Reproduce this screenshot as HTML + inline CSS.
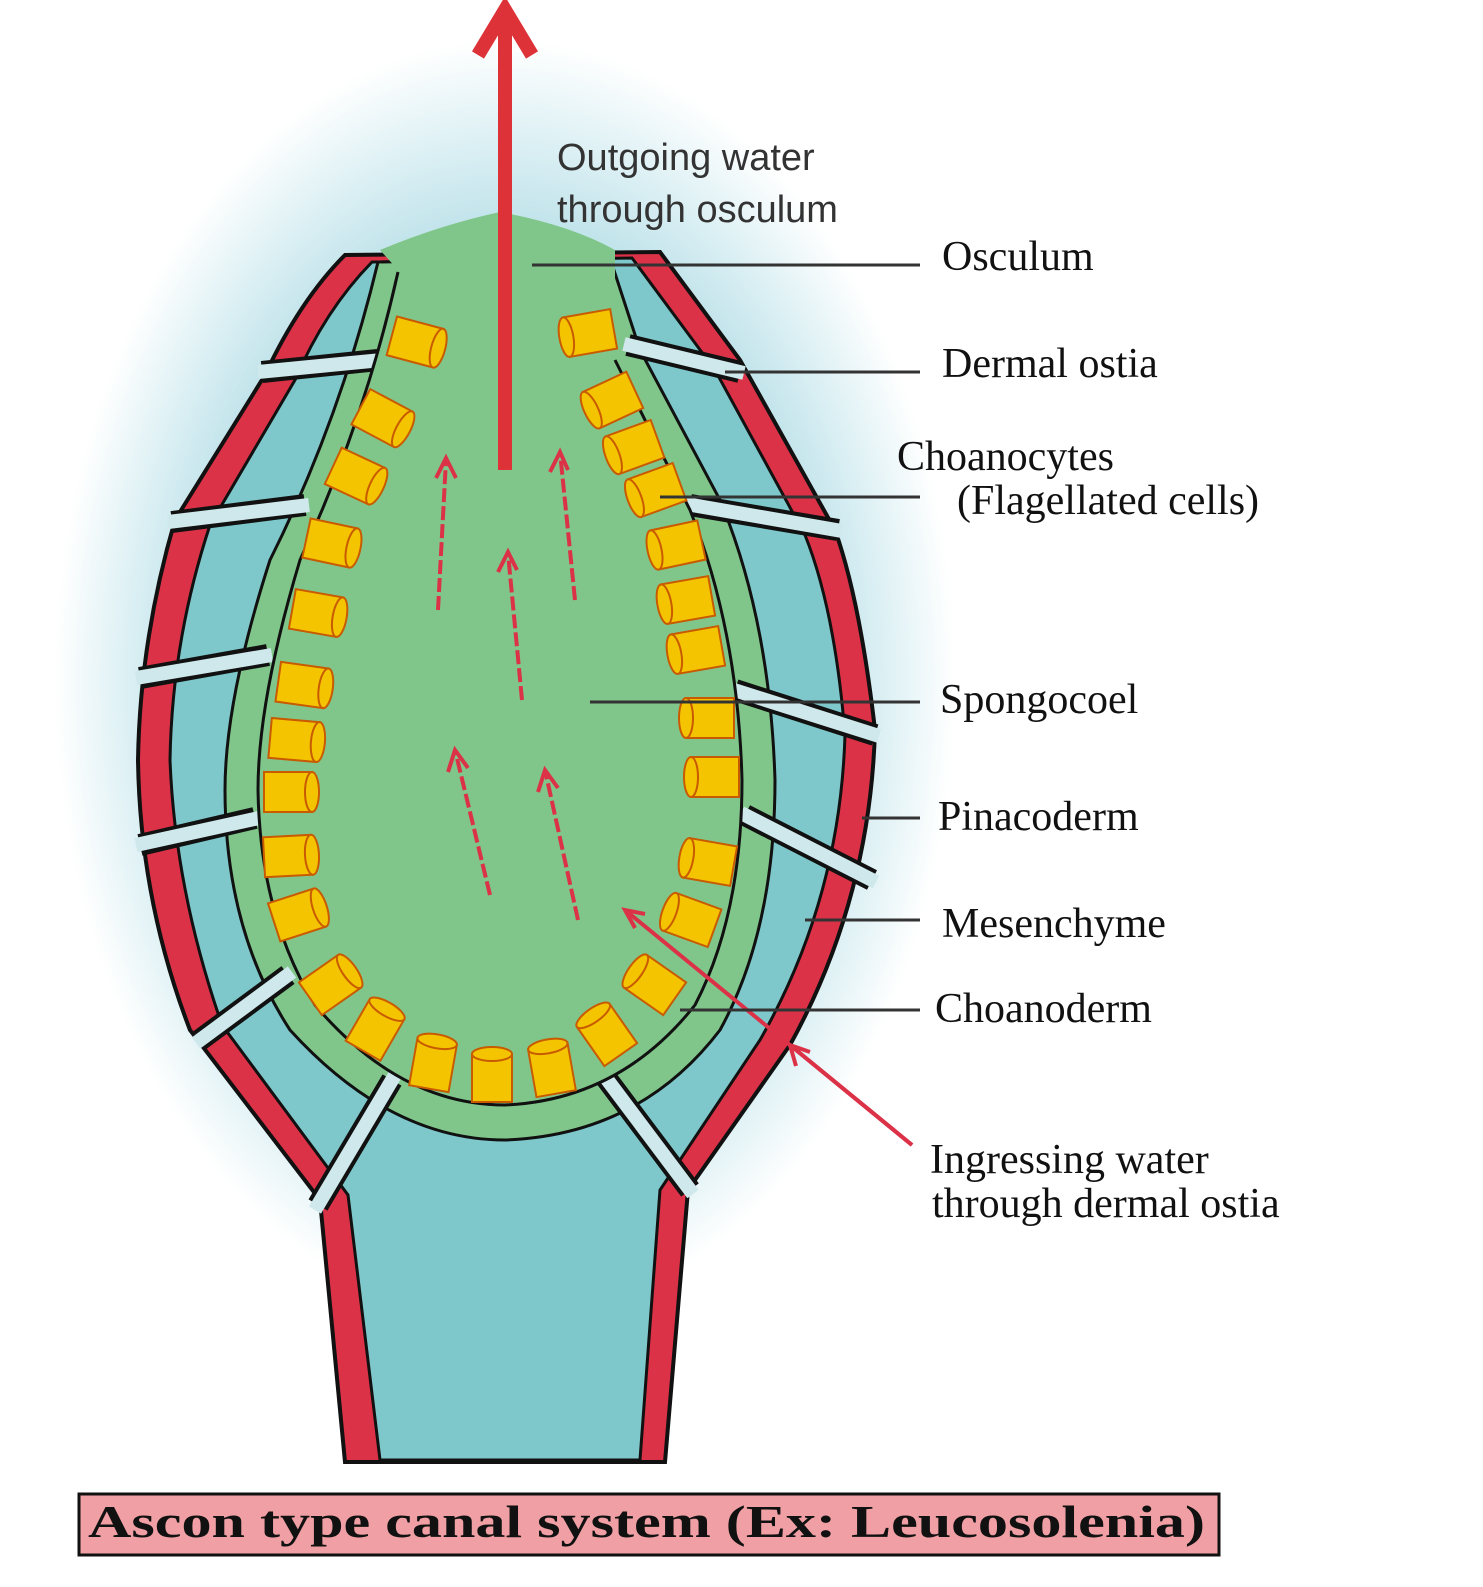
<!DOCTYPE html>
<html><head><meta charset="utf-8"><style>
html,body{margin:0;padding:0;background:#fff;}
svg{display:block}
</style></head><body>
<svg width="1483" height="1587" viewBox="0 0 1483 1587" xmlns="http://www.w3.org/2000/svg">
<defs>
<radialGradient id="glow" cx="0.5" cy="0.5" r="0.5">
<stop offset="0.6" stop-color="#a9d8e2"/>
<stop offset="0.8" stop-color="#d3ecf1"/>
<stop offset="1" stop-color="#ffffff"/>
</radialGradient>
</defs>
<rect width="1483" height="1587" fill="#fff"/>
<ellipse cx="505" cy="680" rx="450" ry="640" fill="url(#glow)"/>
<!-- outer red incl stalk -->
<path d="M345,255 Q300,300 265,375 L175,520 Q140,640 138,760 Q140,900 190,1030 L320,1200 L345,1462 L665,1462 L688,1190 L790,1045 Q870,900 875,730 Q860,600 835,530 L740,360 L660,252 Z" fill="#dc3248" stroke="#111" stroke-width="4"/>
<!-- blue -->
<path d="M372,262 Q325,310 295,380 L210,525 Q172,640 170,760 Q175,890 222,1025 L348,1195 L380,1460 L640,1460 L660,1190 L760,1040 Q840,900 845,735 Q835,610 805,535 L715,370 L632,258 Z" fill="#7ec8cb" stroke="#111" stroke-width="3"/>
<!-- choanoderm band -->
<path d="M378,262 Q340,420 270,560 Q225,700 225,790 Q225,930 290,1030 Q390,1140 505,1140 Q640,1135 720,1030 Q775,930 775,780 Q770,620 720,500 L640,350 L610,258 Z" fill="#80c68a" stroke="#111" stroke-width="3"/>
<!-- ostia gaps -->
<g stroke-linecap="butt" fill="none">
<g stroke="#111" stroke-width="22">
<line x1="262" y1="372" x2="378" y2="360"/><line x1="172" y1="522" x2="305" y2="505"/>
<line x1="140" y1="678" x2="268" y2="655"/><line x1="140" y1="845" x2="255" y2="818"/>
<line x1="200" y1="1040" x2="288" y2="975"/><line x1="318" y1="1205" x2="392" y2="1080"/>
<line x1="600" y1="1070" x2="690" y2="1190"/><line x1="745" y1="815" x2="872" y2="880"/>
<line x1="735" y1="690" x2="875" y2="735"/><line x1="690" y1="505" x2="838" y2="530"/>
<line x1="628" y1="345" x2="740" y2="372"/>
</g>
<g stroke="#cfe8ec" stroke-width="14">
<line x1="258" y1="372" x2="382" y2="360"/><line x1="168" y1="522" x2="309" y2="505"/>
<line x1="136" y1="678" x2="272" y2="655"/><line x1="136" y1="845" x2="259" y2="818"/>
<line x1="196" y1="1043" x2="292" y2="972"/><line x1="315" y1="1210" x2="395" y2="1075"/>
<line x1="597" y1="1066" x2="693" y2="1194"/><line x1="741" y1="813" x2="876" y2="882"/>
<line x1="731" y1="689" x2="879" y2="736"/><line x1="686" y1="504" x2="842" y2="531"/>
<line x1="624" y1="344" x2="744" y2="373"/>
</g>
</g>
<!-- spongocoel interior with dome -->
<path d="M380,250 Q440,225 500,212 Q570,225 615,250 L615,360 L690,510 Q738,630 742,780 Q742,915 695,1005 Q620,1100 505,1105 Q400,1105 315,1005 Q260,915 258,790 Q258,700 300,560 Q365,420 398,270 Z" fill="#80c68a"/>
<path d="M398,272 Q365,420 300,560 Q258,700 258,790 Q260,915 315,1005 Q400,1105 505,1105 Q620,1100 695,1005 Q742,915 742,780 Q738,630 690,510 L615,360" fill="none" stroke="#111" stroke-width="3"/>
<!-- choanocytes -->
<g fill="#f5c400" stroke="#c85a00" stroke-width="2">
<g transform="translate(415,342) rotate(15)"><rect x="-24" y="-20" width="48" height="40"/><ellipse cx="24" cy="0" rx="7" ry="20"/></g>
<g transform="translate(382,418) rotate(28)"><rect x="-24" y="-20" width="48" height="40"/><ellipse cx="24" cy="0" rx="7" ry="20"/></g>
<g transform="translate(355,476) rotate(25)"><rect x="-24" y="-20" width="48" height="40"/><ellipse cx="24" cy="0" rx="7" ry="20"/></g>
<g transform="translate(330,543) rotate(12)"><rect x="-24" y="-20" width="48" height="40"/><ellipse cx="24" cy="0" rx="7" ry="20"/></g>
<g transform="translate(316,613) rotate(10)"><rect x="-24" y="-20" width="48" height="40"/><ellipse cx="24" cy="0" rx="7" ry="20"/></g>
<g transform="translate(302,685) rotate(8)"><rect x="-24" y="-20" width="48" height="40"/><ellipse cx="24" cy="0" rx="7" ry="20"/></g>
<g transform="translate(294,740) rotate(5)"><rect x="-24" y="-20" width="48" height="40"/><ellipse cx="24" cy="0" rx="7" ry="20"/></g>
<g transform="translate(288,792) rotate(0)"><rect x="-24" y="-20" width="48" height="40"/><ellipse cx="24" cy="0" rx="7" ry="20"/></g>
<g transform="translate(288,856) rotate(-3)"><rect x="-24" y="-20" width="48" height="40"/><ellipse cx="24" cy="0" rx="7" ry="20"/></g>
<g transform="translate(297,915) rotate(-18)"><rect x="-24" y="-20" width="48" height="40"/><ellipse cx="24" cy="0" rx="7" ry="20"/></g>
<g transform="translate(330,985) rotate(-35)"><rect x="-24" y="-20" width="48" height="40"/><ellipse cx="24" cy="0" rx="7" ry="20"/></g>
<g transform="translate(375,1030) rotate(-60)"><rect x="-24" y="-20" width="48" height="40"/><ellipse cx="24" cy="0" rx="7" ry="20"/></g>
<g transform="translate(433,1065) rotate(-80)"><rect x="-24" y="-20" width="48" height="40"/><ellipse cx="24" cy="0" rx="7" ry="20"/></g>
<g transform="translate(492,1078) rotate(-90)"><rect x="-24" y="-20" width="48" height="40"/><ellipse cx="24" cy="0" rx="7" ry="20"/></g>
<g transform="translate(552,1070) rotate(-100)"><rect x="-24" y="-20" width="48" height="40"/><ellipse cx="24" cy="0" rx="7" ry="20"/></g>
<g transform="translate(607,1035) rotate(-125)"><rect x="-24" y="-20" width="48" height="40"/><ellipse cx="24" cy="0" rx="7" ry="20"/></g>
<g transform="translate(655,985) rotate(-145)"><rect x="-24" y="-20" width="48" height="40"/><ellipse cx="24" cy="0" rx="7" ry="20"/></g>
<g transform="translate(692,920) rotate(-160)"><rect x="-24" y="-20" width="48" height="40"/><ellipse cx="24" cy="0" rx="7" ry="20"/></g>
<g transform="translate(710,862) rotate(-170)"><rect x="-24" y="-20" width="48" height="40"/><ellipse cx="24" cy="0" rx="7" ry="20"/></g>
<g transform="translate(715,777) rotate(180)"><rect x="-24" y="-20" width="48" height="40"/><ellipse cx="24" cy="0" rx="7" ry="20"/></g>
<g transform="translate(710,718) rotate(180)"><rect x="-24" y="-20" width="48" height="40"/><ellipse cx="24" cy="0" rx="7" ry="20"/></g>
<g transform="translate(698,650) rotate(-190)"><rect x="-24" y="-20" width="48" height="40"/><ellipse cx="24" cy="0" rx="7" ry="20"/></g>
<g transform="translate(688,600) rotate(-190)"><rect x="-24" y="-20" width="48" height="40"/><ellipse cx="24" cy="0" rx="7" ry="20"/></g>
<g transform="translate(678,545) rotate(-192)"><rect x="-24" y="-20" width="48" height="40"/><ellipse cx="24" cy="0" rx="7" ry="20"/></g>
<g transform="translate(657,490) rotate(-200)"><rect x="-24" y="-20" width="48" height="40"/><ellipse cx="24" cy="0" rx="7" ry="20"/></g>
<g transform="translate(635,447) rotate(-200)"><rect x="-24" y="-20" width="48" height="40"/><ellipse cx="24" cy="0" rx="7" ry="20"/></g>
<g transform="translate(613,400) rotate(-205)"><rect x="-24" y="-20" width="48" height="40"/><ellipse cx="24" cy="0" rx="7" ry="20"/></g>
<g transform="translate(590,333) rotate(-190)"><rect x="-24" y="-20" width="48" height="40"/><ellipse cx="24" cy="0" rx="7" ry="20"/></g>
</g>
<!-- big arrow -->
<line x1="505" y1="470" x2="505" y2="10" stroke="#dc3238" stroke-width="14"/>
<polyline points="478,55 505,10 532,55" fill="none" stroke="#dc3238" stroke-width="14"/>
<!-- small arrows -->
<g stroke="#dc3248" stroke-width="4" fill="none">
<line x1="438" y1="610" x2="446" y2="460" stroke-dasharray="14,4"/><polyline points="436,478 446,458 456,478"/>
<line x1="575" y1="600" x2="560" y2="452" stroke-dasharray="14,4"/><polyline points="550,472 560,452 568,470"/>
<line x1="522" y1="700" x2="508" y2="553" stroke-dasharray="14,4"/><polyline points="498,572 508,552 517,570"/>
<line x1="490" y1="895" x2="455" y2="750" stroke-dasharray="14,4"/><polyline points="448,772 455,750 468,768"/>
<line x1="578" y1="920" x2="545" y2="770" stroke-dasharray="14,4"/><polyline points="538,792 545,770 558,788"/>
<line x1="912" y1="1145" x2="625" y2="910"/><polyline points="635,928 625,910 645,914"/>
<line x1="912" y1="1145" x2="790" y2="1045"/><polyline points="796,1066 790,1045 810,1052"/>
</g>
<!-- leader lines -->
<g stroke="#333" stroke-width="3">
<line x1="532" y1="265" x2="920" y2="265"/>
<line x1="725" y1="372" x2="920" y2="372"/>
<line x1="660" y1="497" x2="920" y2="497"/>
<line x1="590" y1="702" x2="920" y2="702"/>
<line x1="862" y1="818" x2="920" y2="818"/>
<line x1="805" y1="920" x2="920" y2="920"/>
<line x1="680" y1="1010" x2="920" y2="1010"/>
</g>
<!-- labels -->
<g font-family="Liberation Sans, sans-serif" font-size="38" fill="#333">
<text x="557" y="170">Outgoing water</text>
<text x="557" y="222">through osculum</text>
</g>
<g font-family="Liberation Serif, serif" font-size="42" fill="#111">
<text x="942" y="270">Osculum</text>
<text x="942" y="377">Dermal ostia</text>
<text x="897" y="470">Choanocytes</text>
<text x="957" y="514">(Flagellated cells)</text>
<text x="940" y="713">Spongocoel</text>
<text x="938" y="830">Pinacoderm</text>
<text x="942" y="937">Mesenchyme</text>
<text x="935" y="1022">Choanoderm</text>
<text x="930" y="1173">Ingressing water</text>
<text x="932" y="1217">through dermal ostia</text>
</g>
<rect x="79" y="1494" width="1140" height="61" fill="#f0a0a4" stroke="#111" stroke-width="3"/>
<text x="88" y="1537" font-family="Liberation Serif, serif" font-weight="bold" font-size="46" fill="#111" textLength="1117" lengthAdjust="spacingAndGlyphs">Ascon type canal system (Ex: Leucosolenia)</text>
</svg>
</body></html>
